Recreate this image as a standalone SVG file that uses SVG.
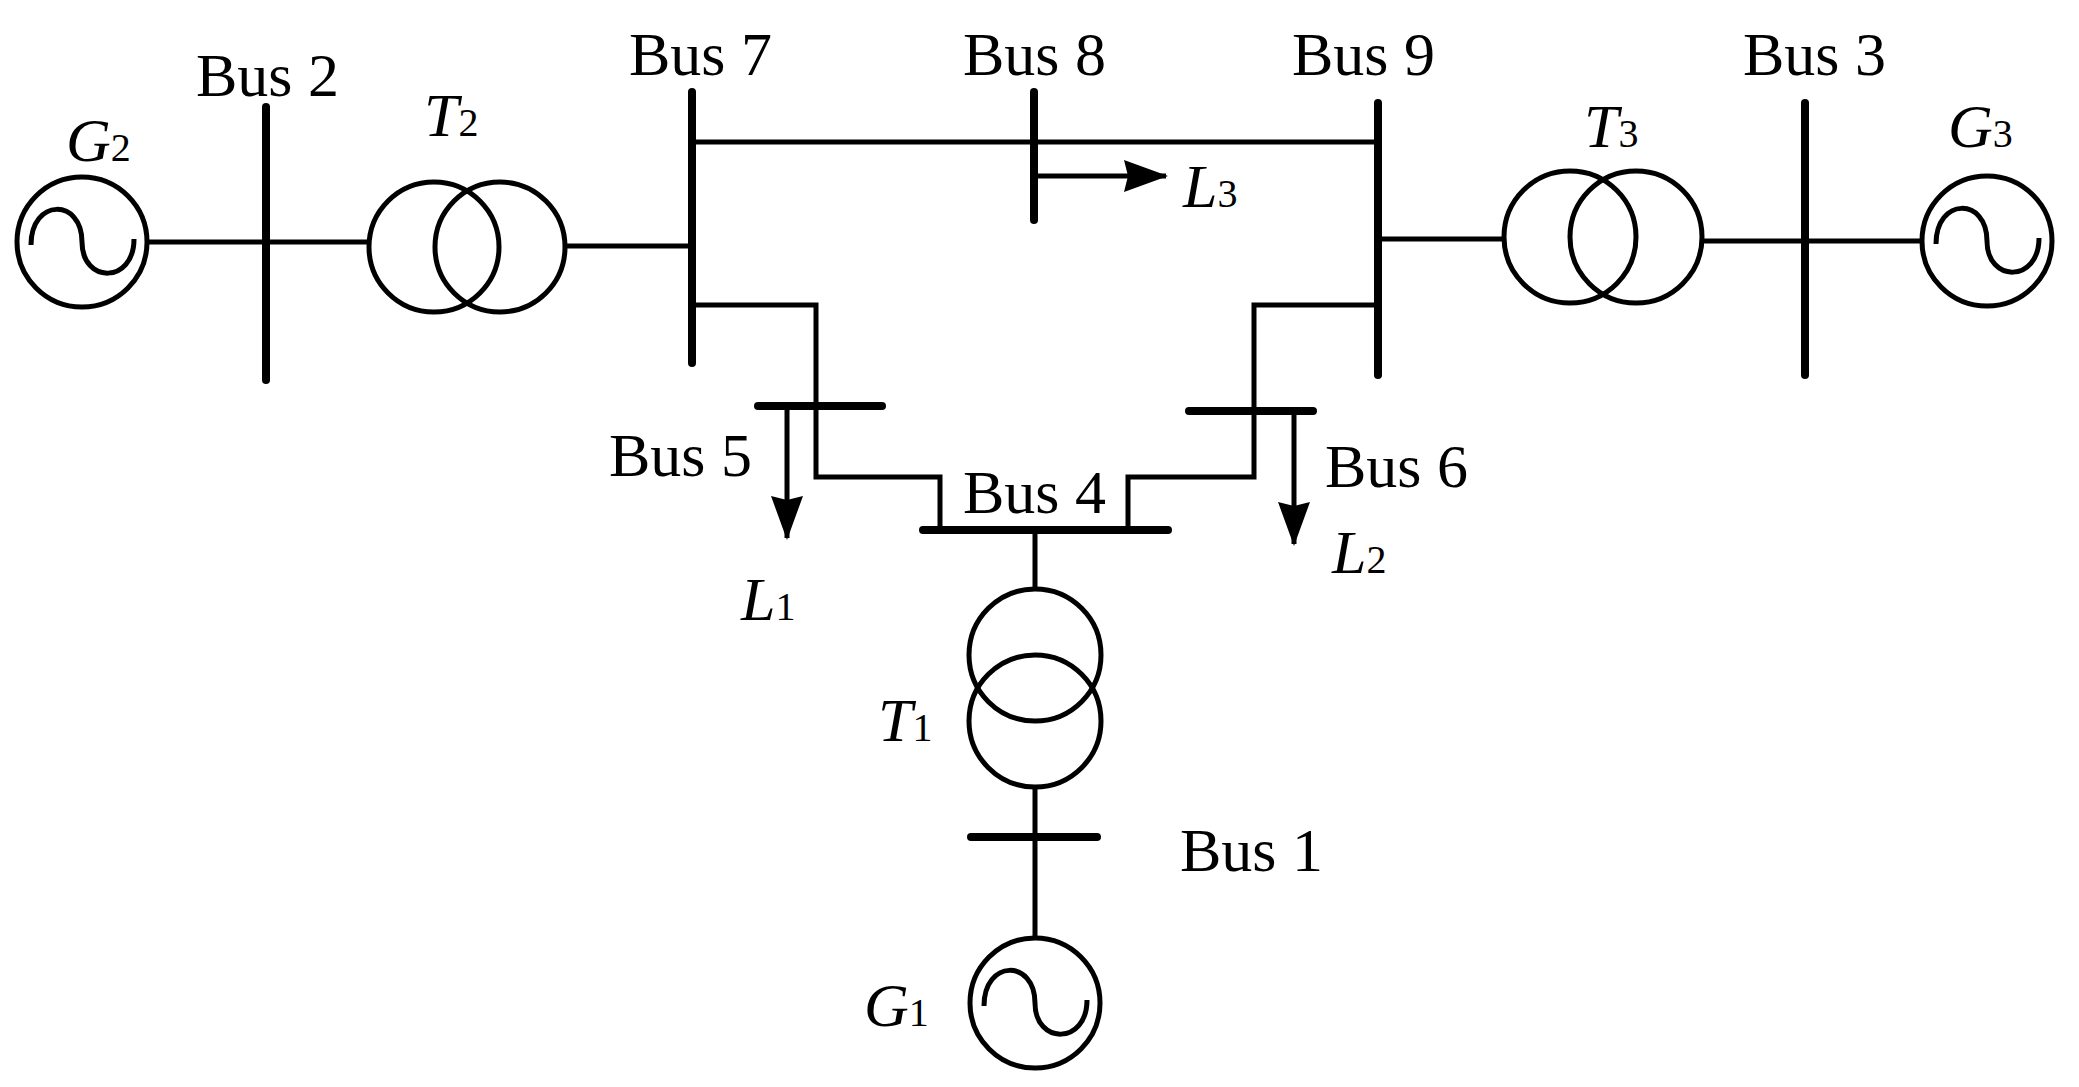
<svg xmlns="http://www.w3.org/2000/svg" width="2079" height="1087" viewBox="0 0 2079 1087">
<style>
.w{fill:none;stroke:#000;stroke-width:5}
.b{fill:none;stroke:#000;stroke-width:8;stroke-linecap:round}
.c{fill:none;stroke:#000;stroke-width:5}
text{font-family:"Liberation Serif",serif;font-size:62px;fill:#000}
.i{font-style:italic}
.s{font-size:40px;font-style:normal}
</style>
<defs>
<marker id="ah" markerWidth="44" markerHeight="32" refX="42" refY="16" orient="auto" markerUnits="userSpaceOnUse" viewBox="0 0 44 32">
<path d="M0,0 L44,16 L0,32 L4,16 Z" fill="#000"/>
</marker>
<g id="gen"><circle class="c" r="65"/><path class="c" d="M-51,3 C-51,-44 0,-44 0,0 C0,42 52,42 52,-3"/></g>
</defs>
<rect width="2079" height="1087" fill="#fff"/>
<g id="connectors">
<path class="w" d="M147,242 H368"/>
<path class="w" d="M566,246 H692"/>
<path class="w" d="M692,142 H1378"/>
<path class="w" d="M692,305 H816 V477 H940 V530"/>
<path class="w" d="M1378,305 H1254 V477 H1128 V530"/>
<path class="w" d="M1378,239 H1504"/>
<path class="w" d="M1701,241 H1922"/>
<path class="w" d="M1035,530 V590"/>
<path class="w" d="M1035,786 V938"/>
<path d="M1034,176 H1166" stroke="#000" stroke-width="5" marker-end="url(#ah)" fill="none"/>
<path d="M787,406 V538" stroke="#000" stroke-width="5" marker-end="url(#ah)" fill="none"/>
<path d="M1294,411 V544" stroke="#000" stroke-width="5" marker-end="url(#ah)" fill="none"/>
</g>
<g id="G2"><use href="#gen" x="82" y="242"/><text x="66" y="161" class="i">G<tspan class="s">2</tspan></text></g>
<g id="Bus2"><line class="b" x1="266" y1="107" x2="266" y2="380"/><text x="196" y="96">Bus 2</text></g>
<g id="T2"><circle class="c" cx="434" cy="247" r="65"/><circle class="c" cx="500" cy="247" r="65"/><text x="424" y="136" class="i">T<tspan class="s">2</tspan></text></g>
<g id="Bus7"><line class="b" x1="692" y1="92" x2="692" y2="363"/><text x="629" y="75">Bus 7</text></g>
<g id="Bus8"><line class="b" x1="1034" y1="92" x2="1034" y2="220"/><text x="963" y="75">Bus 8</text></g>
<g id="L3"><text x="1183" y="207" class="i">L<tspan class="s">3</tspan></text></g>
<g id="Bus9"><line class="b" x1="1378" y1="103" x2="1378" y2="375"/><text x="1292" y="75">Bus 9</text></g>
<g id="T3"><circle class="c" cx="1570" cy="237" r="66"/><circle class="c" cx="1636" cy="237" r="66"/><text x="1584" y="147" class="i">T<tspan class="s">3</tspan></text></g>
<g id="Bus3"><line class="b" x1="1805" y1="103" x2="1805" y2="375"/><text x="1743" y="75">Bus 3</text></g>
<g id="G3"><use href="#gen" x="1987" y="241"/><text x="1948" y="147" class="i">G<tspan class="s">3</tspan></text></g>
<g id="Bus5"><line class="b" x1="758" y1="406" x2="882" y2="406"/><text x="609" y="476">Bus 5</text></g>
<g id="L1"><text x="741" y="620" class="i">L<tspan class="s">1</tspan></text></g>
<g id="Bus6"><line class="b" x1="1189" y1="411" x2="1313" y2="411"/><text x="1325" y="487">Bus 6</text></g>
<g id="L2"><text x="1332" y="573" class="i">L<tspan class="s">2</tspan></text></g>
<g id="Bus4"><line class="b" x1="923" y1="530" x2="1168" y2="530"/><text x="963" y="513">Bus 4</text></g>
<g id="T1"><circle class="c" cx="1035" cy="655" r="66"/><circle class="c" cx="1035" cy="721" r="66"/><text x="878" y="741" class="i">T<tspan class="s">1</tspan></text></g>
<g id="Bus1"><line class="b" x1="971" y1="837" x2="1097" y2="837"/><text x="1180" y="871">Bus 1</text></g>
<g id="G1"><use href="#gen" x="1035" y="1003"/><text x="864" y="1026" class="i">G<tspan class="s">1</tspan></text></g>
</svg>
